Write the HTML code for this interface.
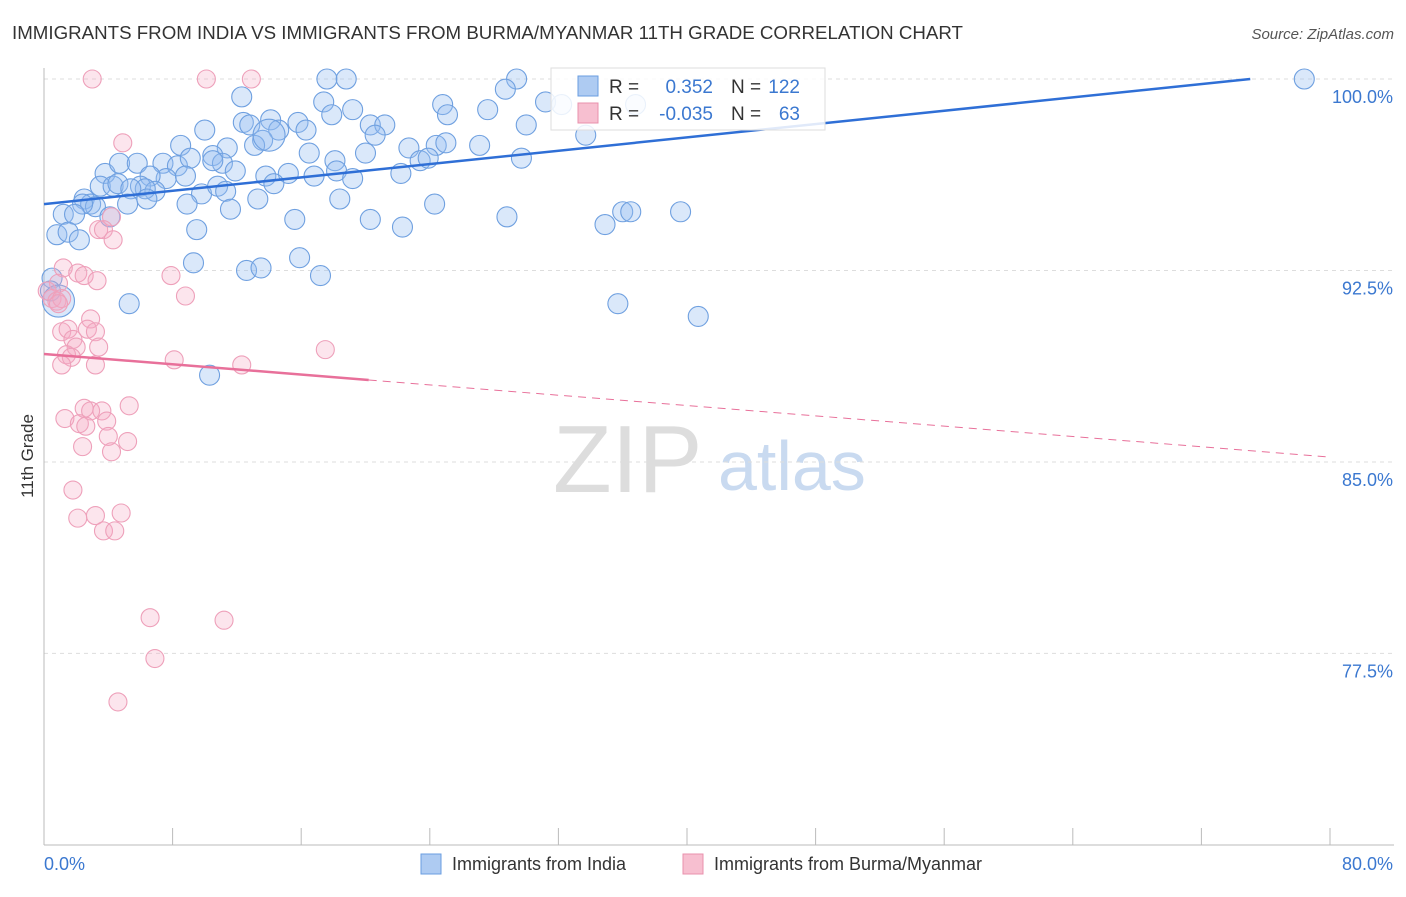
<!DOCTYPE html>
<html><head><meta charset="utf-8"><style>
body{margin:0;background:#fff;font-family:"Liberation Sans",sans-serif}
svg text{font-family:"Liberation Sans",sans-serif}
</style></head><body>
<svg id="chart" width="1406" height="892" viewBox="0 0 1406 892" xmlns="http://www.w3.org/2000/svg">
<text x="12" y="39" font-size="18" fill="#333" textLength="951" lengthAdjust="spacingAndGlyphs">IMMIGRANTS FROM INDIA VS IMMIGRANTS FROM BURMA/MYANMAR 11TH GRADE CORRELATION CHART</text>
<text x="1394" y="39" font-size="15" fill="#555" text-anchor="end" font-style="italic">Source: ZipAtlas.com</text>
<g>
<text x="553" y="492" font-size="96" fill="#ddd" font-family="Liberation Serif,serif">ZIP</text>
<text x="718" y="490" font-size="70" fill="#c9daf0">atlas</text>
</g>
<g id="grid"></g>
<g id="axes"></g>
<g id="pts"></g>
<g id="trend"></g>
<text transform="translate(33,456) rotate(-90)" font-size="17" fill="#333" text-anchor="middle">11th Grade</text>
<g>
<rect x="551" y="68" width="274" height="62" fill="#fff" fill-opacity="0.85" stroke="#ddd"/>
<rect x="578" y="76" width="20" height="20" fill="#aecbf2" stroke="#6a9ee0"/>
<rect x="578" y="103" width="20" height="20" fill="#f7bfd0" stroke="#e990ad"/>
<text x="609" y="93" font-size="19" fill="#333">R =</text>
<text x="713" y="93" font-size="19" fill="#3b78d0" text-anchor="end">0.352</text>
<text x="731" y="93" font-size="19" fill="#333">N =</text>
<text x="800" y="93" font-size="19" fill="#3b78d0" text-anchor="end">122</text>
<text x="609" y="120" font-size="19" fill="#333">R =</text>
<text x="713" y="120" font-size="19" fill="#3b78d0" text-anchor="end">-0.035</text>
<text x="731" y="120" font-size="19" fill="#333">N =</text>
<text x="800" y="120" font-size="19" fill="#3b78d0" text-anchor="end">63</text>
</g>
<g>
<rect x="421" y="854" width="20" height="20" fill="#aecbf2" stroke="#6a9ee0"/>
<text x="452" y="870" font-size="18" fill="#333">Immigrants from India</text>
<rect x="683" y="854" width="20" height="20" fill="#f7bfd0" stroke="#e990ad"/>
<text x="714" y="870" font-size="18" fill="#333">Immigrants from Burma/Myanmar</text>
</g>
</svg>
<script>
const yTicks=[100,92.5,85,77.5];
const yTickLabels=["100.0%","92.5%","85.0%","77.5%"];
const xTicks=[0,8,16,24,32,40,48,56,64,72,80];
const xEndLabels=["0.0%","80.0%"];
const indiaX=[17.6,18.8,29.4,78.4,12.3,17.4,19.2,28.7,24.8,27.6,31.2,32.2,36.8,17.9,25.1,10.0,12.4,14.1,15.8,12.8,14.6,16.3,20.3,21.2,20.6,30.0,33.7,8.5,11.4,13.6,13.1,16.5,18.1,20.0,22.7,24.4,25.0,27.1,29.7,3.8,4.7,5.8,7.4,8.3,9.1,10.5,11.1,7.6,8.8,6.6,10.5,11.9,13.8,15.2,16.8,18.2,19.2,22.2,23.4,23.9,3.5,4.3,4.6,6.0,6.9,6.3,6.4,5.4,9.8,10.8,11.3,13.3,14.3,18.4,8.9,11.6,5.2,2.5,2.9,3.2,2.4,1.2,1.9,4.1,15.6,20.3,22.3,24.3,28.8,34.9,36.0,36.5,39.6,9.5,0.8,1.5,2.2,9.3,12.6,13.5,15.9,17.2,5.3,35.7,40.7,10.3,0.5,0.4,0.9,14.0];
const indiaY=[100,100,100,100,99.3,99.1,98.8,99.6,99.0,98.8,99.1,99.0,99.0,98.6,98.6,98.0,98.3,98.4,98.3,98.2,98.0,98.0,98.2,98.2,97.8,98.2,97.8,97.4,97.3,97.6,97.4,97.1,96.8,97.1,97.3,97.4,97.5,97.4,96.9,96.3,96.7,96.7,96.7,96.6,96.9,97.0,96.7,96.1,96.2,96.2,96.8,96.4,96.2,96.3,96.2,96.4,96.1,96.3,96.8,96.9,95.8,95.8,95.9,95.8,95.6,95.7,95.3,95.7,95.5,95.8,95.6,95.3,95.9,95.3,95.1,94.9,95.1,95.3,95.1,95.0,95.1,94.7,94.7,94.6,94.5,94.5,94.2,95.1,94.6,94.3,94.8,94.8,94.8,94.1,93.9,94.0,93.7,92.8,92.5,92.6,93.0,92.3,91.2,91.2,90.7,88.4,92.2,91.7,91.3,97.8];
const burmaX=[3.0,10.1,12.9,4.9,4.2,3.4,3.7,4.3,1.2,2.1,2.5,3.3,7.9,8.8,0.9,0.2,0.5,0.8,1.1,0.9,2.9,1.1,1.5,2.7,1.8,2.0,3.2,3.4,1.4,1.7,1.1,3.2,8.1,12.3,17.5,1.3,2.5,2.9,3.6,5.3,2.2,2.6,3.9,4.0,2.4,5.2,4.2,1.8,2.1,3.2,4.8,3.7,4.4,6.6,11.2,6.9,4.6];
const burmaY=[100,100,100,97.5,94.6,94.1,94.1,93.7,92.6,92.4,92.3,92.1,92.3,91.5,92.0,91.7,91.4,91.3,91.4,91.2,90.6,90.1,90.2,90.2,89.8,89.5,90.1,89.5,89.2,89.1,88.8,88.8,89.0,88.8,89.4,86.7,87.1,87.0,87.0,87.2,86.5,86.4,86.6,86.0,85.6,85.8,85.4,83.9,82.8,82.9,83.0,82.3,82.3,78.9,78.8,77.3,75.6];
const bigIdx=[108,109,110];
const indiaTrend=[95.1,0.0653];
const burmaTrend=[89.23,-0.0505];
const burmaSolidEnd=20.2;
const NS="http://www.w3.org/2000/svg";
const X=v=>44+v*16.075, Y=v=>79+(100-v)*25.53;
function mk(tag,attrs,parent){const e=document.createElementNS(NS,tag);for(const k in attrs)e.setAttribute(k,attrs[k]);parent.appendChild(e);return e;}
const grid=document.getElementById('grid'),axes=document.getElementById('axes'),pts=document.getElementById('pts'),tr=document.getElementById('trend');
yTicks.forEach((t,i)=>{
 const l=mk('line',{x1:44,x2:1394,y1:Y(t),y2:Y(t),stroke:'#ddd','stroke-dasharray':'4,4'},grid);
 
 
 const tx=mk('text',{x:1393,y:Y(t)+24,'font-size':18,fill:'#3b78d0','text-anchor':'end'},axes);
 tx.textContent=yTickLabels[i];
 
 
});
const ya=mk('line',{x1:44,x2:44,y1:68,y2:845,stroke:'#bbb'},axes);


const xa=mk('line',{x1:44,x2:1394,y1:845,y2:845,stroke:'#bbb'},axes);


xTicks.forEach(t=>{const l=mk('line',{x1:X(t),x2:X(t),y1:828,y2:845,stroke:'#bbb'},axes);
 
 });
const xl0=mk('text',{x:44,y:870,'font-size':18,fill:'#3b78d0'},axes);xl0.textContent=xEndLabels[0];


const xl1=mk('text',{x:1393,y:870,'font-size':18,fill:'#3b78d0','text-anchor':'end'},axes);xl1.textContent=xEndLabels[1];


indiaX.forEach((x,i)=>{const r=bigIdx.includes(i)?16:10;
 const c=mk('circle',{cx:X(x),cy:Y(indiaY[i]),r:r,fill:'rgba(150,190,240,0.35)',stroke:'#6fa0e0','stroke-width':1.1},pts);
 
 });
burmaX.forEach((x,i)=>{
 const c=mk('circle',{cx:X(x),cy:Y(burmaY[i]),r:9,fill:'rgba(246,170,195,0.3)',stroke:'#eea0ba','stroke-width':1.1},pts);
 
 });
const xe=(100-indiaTrend[0])/indiaTrend[1];
const bl=mk('line',{x1:X(0),y1:Y(indiaTrend[0]),x2:X(xe),y2:Y(100),stroke:'#2f6fd6','stroke-width':2.5},tr);


const pl=mk('line',{x1:X(0),y1:Y(burmaTrend[0]),x2:X(burmaSolidEnd),y2:Y(burmaTrend[0]+burmaTrend[1]*burmaSolidEnd),stroke:'#e8709a','stroke-width':2.5},tr);


const pd=mk('line',{x1:X(burmaSolidEnd),y1:Y(burmaTrend[0]+burmaTrend[1]*burmaSolidEnd),x2:X(80),y2:Y(burmaTrend[0]+burmaTrend[1]*80),stroke:'#e8709a','stroke-width':1,'stroke-dasharray':'8,6'},tr);


</script>
</body></html>
